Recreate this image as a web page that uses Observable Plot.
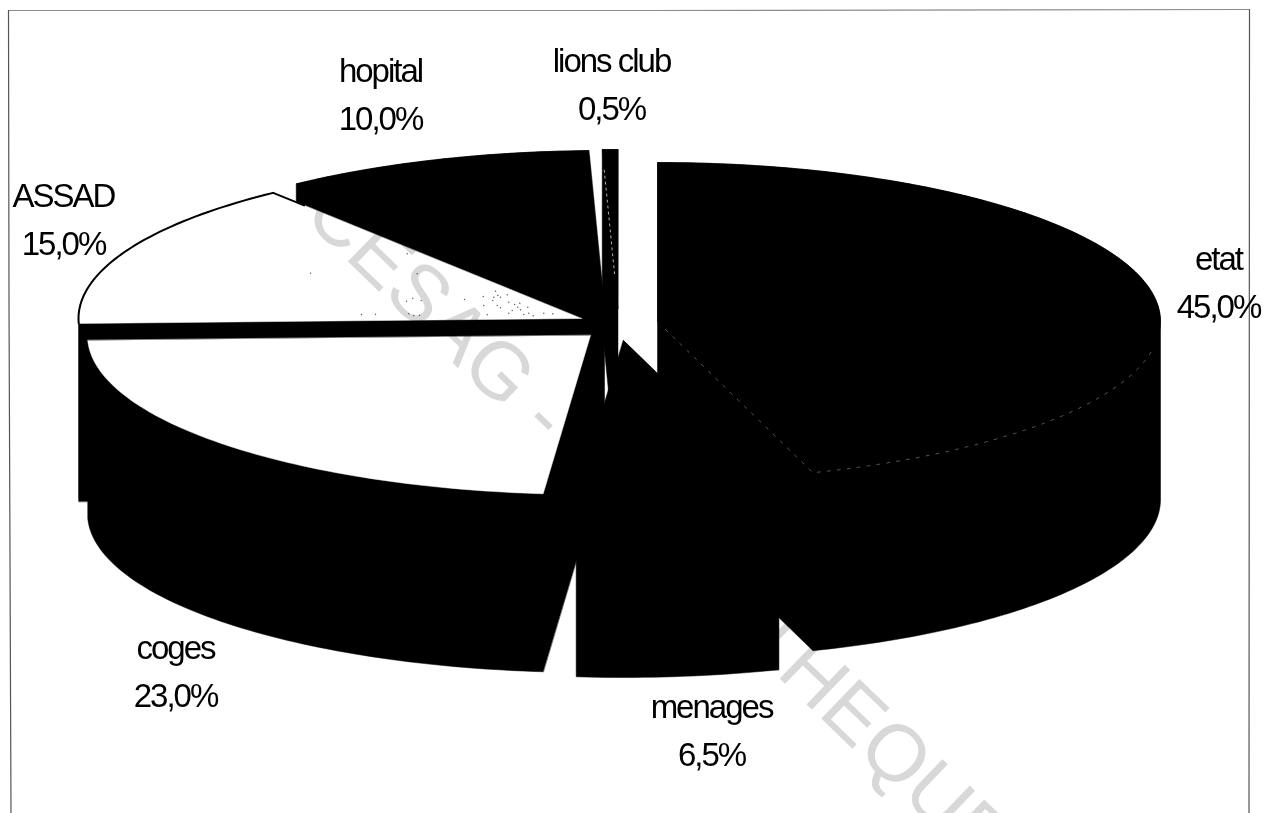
<!DOCTYPE html>
<html lang="fr">
<head>
<meta charset="utf-8">
<title>Répartition du financement</title>
<script src="https://cdn.jsdelivr.net/npm/d3@7"></script>
<script src="https://cdn.jsdelivr.net/npm/@observablehq/plot@0.6"></script>
<style>
  html, body { margin: 0; background: #fff; }
  /* The two-line labels are set tight */
  svg text tspan { letter-spacing: -2px; }
</style>
</head>
<body>
<div id="chart"></div>
<script>
// Funding shares, clockwise from twelve o'clock
const categories = ["etat", "menages", "coges", "ASSAD", "hopital", "lions club"];
const shares = [45.0, 6.5, 23.0, 15.0, 10.0, 0.5];
const topColors = ["#000", "#000", "#fff", "#fff", "#000", "#000"];

// Where each exploded slice has its apex, and its label anchor
const apexX = [657, 623, 590, 581, 604, 617.5];
const apexY = [321, 340, 335, 318, 309, 308];
const labelX = [1218, 711, 175, 63, 380, 611];
const labelY = [278, 726, 667, 215, 90, 80];

// Tilted-disc proportions
const RX = 503, RY = 159, DEPTH = 178;

const WIDTH = 1264, HEIGHT = 813;
const frameLeft = [{x: 8, y: 10}, {x: 8.5, y: 300}, {x: 10.5, y: 813}];
const frameTop = [{x: 8, y: 10}, {x: 640, y: 10}, {x: 1249, y: 9}];
const frameRight = [{x: 1249, y: 9}, {x: 1248.5, y: 813}];
const stamp = [{x: 319, y: 198, text: "CESAG - BIBLIOTHEQUE"}];

// Print speckle on the ASSAD face
const speckX = [495, 497.3, 493.3, 492.3, 500, 506.7, 496.7, 500, 508.3, 514, 519.3, 517.3, 520, 511.7, 508.3, 527.3, 528.3, 523.3, 532.7, 543.3, 552.3, 482.7, 483.3, 486.7, 464, 412.3, 420.7, 406, 416.7, 406.7, 408.3, 413.3, 419, 375, 361, 310];
const speckY = [290.7, 295, 296.7, 300, 296.7, 294.3, 305, 307.3, 301.7, 304, 302.7, 306.7, 309.3, 310, 312.7, 306.7, 312.7, 314, 315.3, 312.7, 313.3, 296, 305, 314.3, 299, 297.7, 300, 300.7, 273.3, 253.3, 313.3, 315, 314.7, 313.7, 314, 272.7];

const rim = (i, t, drop = 0) => ({
  x: apexX[i] + RX * Math.sin(t),
  y: apexY[i] - RY * Math.cos(t) + drop
});

// Turn the cumulative shares into start and end angles
const ends = d3.cumsum(shares).map(v => v / 100 * 2 * Math.PI);
const arcs = categories.map((name, i) => {
  const t0 = i ? ends[i - 1] : 0, t1 = ends[i];
  const n = Math.max(2, Math.ceil((t1 - t0) / 0.02));
  return d3.range(n + 1).map(k => t0 + (t1 - t0) * k / n);
});

const topFace = i => [{x: apexX[i], y: apexY[i]}, ...arcs[i].map(t => rim(i, t))];

// Every slice is under half the disc, so its solid outline is the convex hull
// of the top face and the same face dropped by the disc's thickness
const solid = i => {
  const top = topFace(i);
  const points = [...top, ...top.map(p => ({x: p.x, y: p.y + DEPTH}))];
  return d3.polygonHull(points.map(p => [p.x, p.y])).map(([x, y]) => ({x, y}));
};

const shape = (points, options) => Plot.line(points, {x: "x", y: "y", curve: "linear-closed", ...options});

// Paint back slices first so nearer ones overlap them
const order = [4, 5, 0, 3, 2, 1];
const sliceMarks = order.flatMap(i => [
  shape(solid(i), {fill: "#000", stroke: "#000", strokeWidth: 0.5}),
  shape(topFace(i), {fill: topColors[i], stroke: topColors[i], strokeWidth: 0.5})
]);

// The rim of the ASSAD slice keeps a black outline on its white top
const assadEnd = rim(3, arcs[3][arcs[3].length - 1]);
const assadRim = Plot.line(
  [...arcs[3].map(t => rim(3, t)), {x: assadEnd.x + (apexX[3] - assadEnd.x) * 0.1, y: assadEnd.y + (apexY[3] - assadEnd.y) * 0.1}],
  {x: "x", y: "y", stroke: "#000", strokeWidth: 2}
);

// Faint seams that remain visible where black faces meet
const etatEnd = arcs[0][arcs[0].length - 1];
const etatSeam = Plot.line(
  [{x: apexX[0] + 8, y: apexY[0] + 8}, rim(0, etatEnd), ...arcs[0].filter(t => t > 1.75).reverse().map(t => rim(0, t))],
  {x: "x", y: "y", stroke: "#8a8a8a", strokeWidth: 0.6, strokeDasharray: "3 7"}
);
const lionsEdge = rim(5, arcs[5][0]);
const lionsSeam = Plot.line(
  [0.13, 0.78].map(f => ({x: lionsEdge.x + (apexX[5] - lionsEdge.x) * f, y: lionsEdge.y + (apexY[5] - lionsEdge.y) * f})),
  {x: "x", y: "y", stroke: "#fff", strokeWidth: 1, strokeDasharray: "2 4", strokeOpacity: 0.7}
);

const labels = categories.map((name, i) => ({
  x: labelX[i], y: labelY[i],
  text: `${name}\n${shares[i].toFixed(1).replace(".", ",")}%`
}));

const chart = Plot.plot({
  width: WIDTH,
  height: HEIGHT,
  margin: 0,
  x: {domain: [0, WIDTH], range: [0, WIDTH], axis: null},
  y: {domain: [0, HEIGHT], range: [0, HEIGHT], axis: null},
  style: {background: "#fff"},
  marks: [
    ...sliceMarks,
    assadRim,
    etatSeam,
    lionsSeam,
    Plot.dot(speckX, {x: speckX, y: speckY, r: 0.7, fill: "#555"}),
    Plot.line(frameTop, {x: "x", y: "y", stroke: "#8c8c8c", strokeWidth: 1.2}),
    Plot.line(frameLeft, {x: "x", y: "y", stroke: "#555", strokeWidth: 1.2}),
    Plot.line(frameRight, {x: "x", y: "y", stroke: "#555", strokeWidth: 1.2}),
    // Library stamp across the page; multiply leaves the black faces untouched
    Plot.text(stamp, {
      x: "x", y: "y", text: "text", rotate: 44, textAnchor: "start",
      fontFamily: "Liberation Sans", fontSize: 80, fill: "#d8d8d8",
      mixBlendMode: "multiply"
    }),
    Plot.text(labels, {
      x: "x", y: "y", text: "text", lineHeight: 1.45,
      fontFamily: "Liberation Sans", fontSize: 33, fill: "#000"
    })
  ]
});

document.getElementById("chart").append(chart);
</script>
</body>
</html>
